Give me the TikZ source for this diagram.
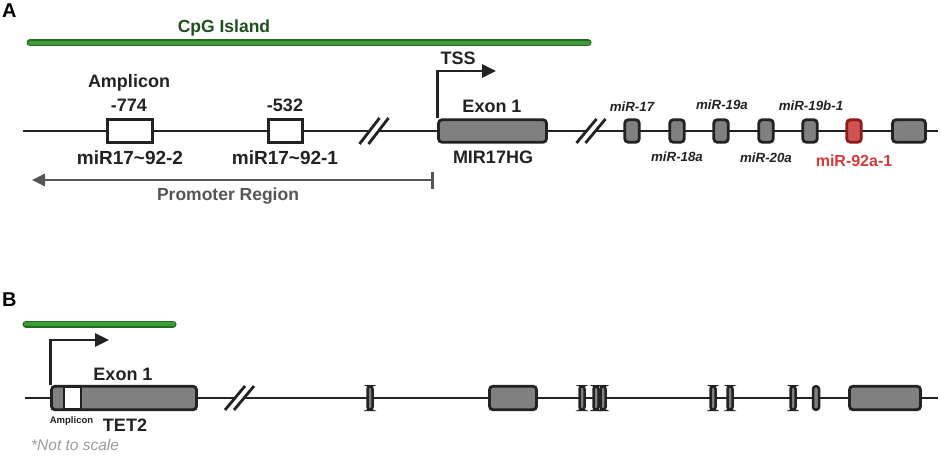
\documentclass[tikz,border=0pt]{standalone}
\usepackage{fontspec}
\setmainfont{Liberation Sans}
\usetikzlibrary{arrows.meta}
\definecolor{linec}{HTML}{222222}
\definecolor{exgray}{HTML}{808080}
\definecolor{txt}{HTML}{222222}
\definecolor{cpgdark}{HTML}{236B22}
\definecolor{cpgfill}{HTML}{3E9C3A}
\definecolor{cpgtext}{HTML}{1F4F1C}
\definecolor{redfill}{HTML}{D05252}
\definecolor{redline}{HTML}{8E1A1A}
\definecolor{redtext}{HTML}{D43A3A}
\definecolor{promgray}{HTML}{555555}
\definecolor{notegray}{HTML}{9A9A9A}
\begin{document}
\begin{tikzpicture}[x=1pt,y=-1pt,
  bb/.style={draw=linec, line width=2.8pt},
  exonbox/.style={draw=linec, fill=exgray, line width=2.8pt, rounded corners=3.5pt, minimum height=22.5pt, inner sep=0pt},
  thinex/.style={draw=linec, fill=exgray, line width=2.5pt, rounded corners=2.8pt, minimum height=23.5pt, minimum width=5pt, inner sep=0pt},
  wbox/.style={draw=linec, fill=white, line width=2.8pt, minimum height=22.5pt, inner sep=0pt},
  redbox/.style={draw=redline, fill=redfill, line width=2.8pt, rounded corners=3.5pt, minimum height=22.5pt, minimum width=14.5pt, inner sep=0pt},
  lab/.style={font=\bfseries\fontsize{18}{20}\selectfont, text=txt, anchor=base, inner sep=0pt},
  mir/.style={font=\bfseries\itshape\fontsize{13.3}{15}\selectfont, text=txt, anchor=base, inner sep=0pt},
  panel/.style={font=\bfseries\fontsize{20}{22}\selectfont, text=black, anchor=base west, inner sep=0pt},
  tssarrow/.style={draw=linec, line width=2.8pt, -{Triangle[length=14pt,width=13pt]}},
  slash/.style={draw=linec, line width=2.8pt},
]
\useasboundingbox (0,0) rectangle (941,468);

%% ---------------- Panel A ----------------
\node[panel] (pA) at (2,18) {A};

% CpG island
\coordinate (cpgA1) at (30,43);
\coordinate (cpgA2) at (588,43);
\draw[cpgdark, line width=7pt, line cap=round] (cpgA1) -- (cpgA2);
\draw[cpgfill, line width=4.2pt, line cap=round] (cpgA1) -- (cpgA2);
\node[lab, text=cpgtext, font=\bfseries\fontsize{17.5}{20}\selectfont] (cpgAlab) at (224,33) {CpG Island};

% backbone
\coordinate (a0) at (23,131);
\coordinate (a1) at (369.5,131);
\coordinate (a2) at (378.5,131);
\coordinate (a3) at (586.5,131);
\coordinate (a4) at (595.5,131);
\coordinate (a5) at (938,131);
\draw[bb] (a0) -- (a1);
\draw[bb] (a2) -- (a3);
\draw[bb] (a4) -- (a5);
\draw[slash] ([shift={(-10,13)}]a1) -- ([shift={(10,-13)}]a1);
\draw[slash] ([shift={(-10,13)}]a2) -- ([shift={(10,-13)}]a2);
\draw[slash] ([shift={(-10,12)}]a3) -- ([shift={(10,-12)}]a3);
\draw[slash] ([shift={(-10,12)}]a4) -- ([shift={(10,-12)}]a4);

% promoter boxes
\node[wbox, minimum width=45pt] (amp774) at (130,131) {};
\node[wbox, minimum width=34pt] (amp532) at (285.5,131) {};
\node[lab] (ampAlab) at (129,88) {Amplicon};
\node[lab] (l774) at (129,112) {-774};
\node[lab] (l532) at (285,112) {-532};
\node[lab, font=\bfseries\fontsize{19}{21}\selectfont] (m2) at (130,164) {miR17\char`~92-2};
\node[lab, font=\bfseries\fontsize{19}{21}\selectfont] (m1) at (285,164) {miR17\char`~92-1};

% exon 1
\node[exonbox, minimum width=108pt] (exA) at (492.5,131) {};
\node[lab] (exAlab) at (492,113) {Exon 1};
\node[lab] (mirhg) at (493,163) {MIR17HG};
\coordinate (tssA) at (496,71);
\draw[tssarrow] (exA.north west) |- (tssA);
\node[lab] (tssAlab) at (458,65) {TSS};

% miRNA boxes
\node[exonbox, minimum width=14.5pt] (m17) at (632,131) {};
\node[exonbox, minimum width=14.5pt] (m18) at (677,131) {};
\node[exonbox, minimum width=14.5pt] (m19a) at (721,131) {};
\node[exonbox, minimum width=14.5pt] (m20) at (766,131) {};
\node[exonbox, minimum width=14.5pt] (m19b) at (810,131) {};
\node[redbox] (m92) at (854,131) {};
\node[exonbox, minimum width=33pt] (exlast) at (909,131) {};
\node[mir] (l17) at (632,111) {miR-17};
\node[mir] (l19a) at (722,110) {miR-19a};
\node[mir] (l19b) at (811,110.5) {miR-19b-1};
\node[mir] (l18) at (677,161.5) {miR-18a};
\node[mir] (l20) at (766,162) {miR-20a};
\node[lab, text=redtext, font=\bfseries\fontsize{16}{18}\selectfont] (l92) at (854,166) {miR-92a-1};

% promoter region
\coordinate (promL) at (32,180);
\coordinate (promR) at (434,180);
\draw[promgray, line width=2.8pt, {Triangle[length=13pt,width=12pt]}-{Bar[width=17pt]}] (promL) -- (promR);
\node[lab, text=promgray, font=\bfseries\fontsize{17.5}{20}\selectfont] (promlab) at (228,200.5) {Promoter Region};

%% ---------------- Panel B ----------------
\node[panel] (pB) at (2,306) {B};

\coordinate (cpgB1) at (26,324);
\coordinate (cpgB2) at (173,324);
\draw[cpgdark, line width=7pt, line cap=round] (cpgB1) -- (cpgB2);
\draw[cpgfill, line width=4.2pt, line cap=round] (cpgB1) -- (cpgB2);

\coordinate (b0) at (25,398);
\coordinate (b1) at (235,398);
\coordinate (b2) at (244,398);
\coordinate (b3) at (938,398);
\draw[bb] (b0) -- (b1);
\draw[bb] (b2) -- (b3);
\draw[slash] ([shift={(-10,12)}]b1) -- ([shift={(10,-12)}]b1);
\draw[slash] ([shift={(-10,12)}]b2) -- ([shift={(10,-12)}]b2);

\node[exonbox, minimum width=145pt, minimum height=23.5pt] (exB) at (124,398) {};
\node[wbox, minimum width=17pt, minimum height=23.5pt] (ampB) at (72.5,398) {};
\coordinate (tssB) at (109,340);
\draw[tssarrow] (exB.north west) |- (tssB);
\node[lab] (exBlab) at (123,380) {Exon 1};
\node[lab] (tet2) at (125,431) {TET2};
\node[lab, font=\bfseries\fontsize{9.5}{11}\selectfont] (ampBlab) at (71.5,423) {Amplicon};

\node[thinex] (t1) at (370,398) {};
\node[exonbox, minimum width=47pt, minimum height=23.5pt] (t2) at (513,398) {};
\node[thinex] (t3) at (582,398) {};
\node[thinex] (t4) at (596,398) {};
\node[thinex] (t5) at (603,398) {};
\node[thinex] (t6) at (713,398) {};
\node[thinex] (t7) at (730,398) {};
\node[thinex] (t8) at (793,398) {};
\node[thinex, minimum width=6pt] (t9) at (816,398) {};
\node[exonbox, minimum width=71pt, minimum height=23.5pt] (t10) at (885,398) {};

\node[font=\itshape\fontsize{15.5}{18}\selectfont, text=notegray, anchor=base west, inner sep=0pt] (note) at (31,450) {*Not to scale};
\end{tikzpicture}
\end{document}
